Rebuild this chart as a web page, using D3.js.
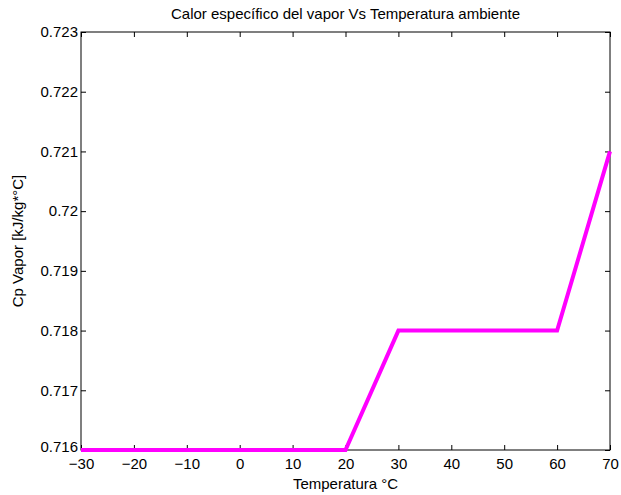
<!DOCTYPE html>
<html>
<head>
<meta charset="utf-8">
<script src="https://cdn.jsdelivr.net/npm/d3@7"></script>
<style>
  body { margin: 0; background: #fff; }
  text { font-family: "Liberation Sans", Arial, sans-serif; }
</style>
</head>
<body>
<div id="chart"></div>
<script>
var temps = [-30, -20, -10, 0, 10, 20, 30, 40, 50, 60, 70];
var cpVapor = [0.716, 0.716, 0.716, 0.716, 0.716, 0.716, 0.718, 0.718, 0.718, 0.718, 0.721];
var xTicks = [-30, -20, -10, 0, 10, 20, 30, 40, 50, 60, 70];
var yTicks = [0.716, 0.717, 0.718, 0.719, 0.72, 0.721, 0.722, 0.723];

var margin = { top: 32, left: 81, right: 11, bottom: 45 },
  width = 621 - margin.left - margin.right,
  height = 495 - margin.top - margin.bottom;

var svg = d3.select("#chart")
  .append("svg")
  .attr("width", 621)
  .attr("height", 495)
  .append("g")
  .attr("transform", "translate(" + margin.left + "," + margin.top + ")");

var x = d3.scaleLinear().domain([-30, 70]).range([0, width]);
var y = d3.scaleLinear().domain([0.716, 0.723]).range([height, 0]);

var data = temps.map(function(t, i) { return { t: t, cp: cpVapor[i] }; });

// box
svg.append("rect")
  .attr("width", width)
  .attr("height", height)
  .attr("fill", "none")
  .attr("stroke", "#000")
  .attr("stroke-width", 1);

// ticks on all sides pointing in
var fmtY = function(d) { return String(+d.toFixed(3)); };
var fmtX = function(d) { return d < 0 ? "\u2212" + Math.abs(d) : String(d); };

var xb = svg.append("g").attr("transform", "translate(0," + height + ")")
  .call(d3.axisBottom(x).tickValues(xTicks).tickSizeInner(-5).tickSizeOuter(0).tickPadding(8).tickFormat(fmtX));
var xt = svg.append("g")
  .call(d3.axisTop(x).tickValues(xTicks).tickSizeInner(-5).tickSizeOuter(0).tickFormat(""));
var yl = svg.append("g")
  .call(d3.axisLeft(y).tickValues(yTicks).tickSizeInner(-5).tickSizeOuter(0).tickPadding(3).tickFormat(fmtY));
var yr = svg.append("g").attr("transform", "translate(" + width + ",0)")
  .call(d3.axisRight(y).tickValues(yTicks).tickSizeInner(-5).tickSizeOuter(0).tickFormat(""));

[xb, xt, yl, yr].forEach(function(g) {
  g.select(".domain").remove();
  g.selectAll("line").attr("stroke", "#000");
  g.selectAll("text").attr("font-size", 15).attr("fill", "#000")
    .style("font-family", "'Liberation Sans', Arial, sans-serif");
});

// bottom y label sits a touch higher so it clears the -30 label
yl.selectAll(".tick text").filter(function(d) { return d === 0.716; }).attr("dy", "0.1em");

// line
svg.append("path")
  .datum(data)
  .attr("fill", "none")
  .attr("stroke", "#ff00ff")
  .attr("stroke-width", 4)
  .attr("d", d3.line().x(function(d) { return x(d.t); }).y(function(d) { return y(d.cp); }));

// labels
svg.append("text")
  .attr("x", width / 2)
  .attr("y", -13)
  .attr("text-anchor", "middle")
  .attr("font-size", 15)
  .text("Calor específico del vapor Vs Temperatura ambiente");

svg.append("text")
  .attr("x", width / 2)
  .attr("y", height + 39)
  .attr("text-anchor", "middle")
  .attr("font-size", 15)
  .text("Temperatura °C");

svg.append("text")
  .attr("transform", "translate(" + (-58) + "," + (height / 2) + ") rotate(-90)")
  .attr("text-anchor", "middle")
  .attr("font-size", 15)
  .text("Cp Vapor [kJ/kg*°C]");
</script>
</body>
</html>
